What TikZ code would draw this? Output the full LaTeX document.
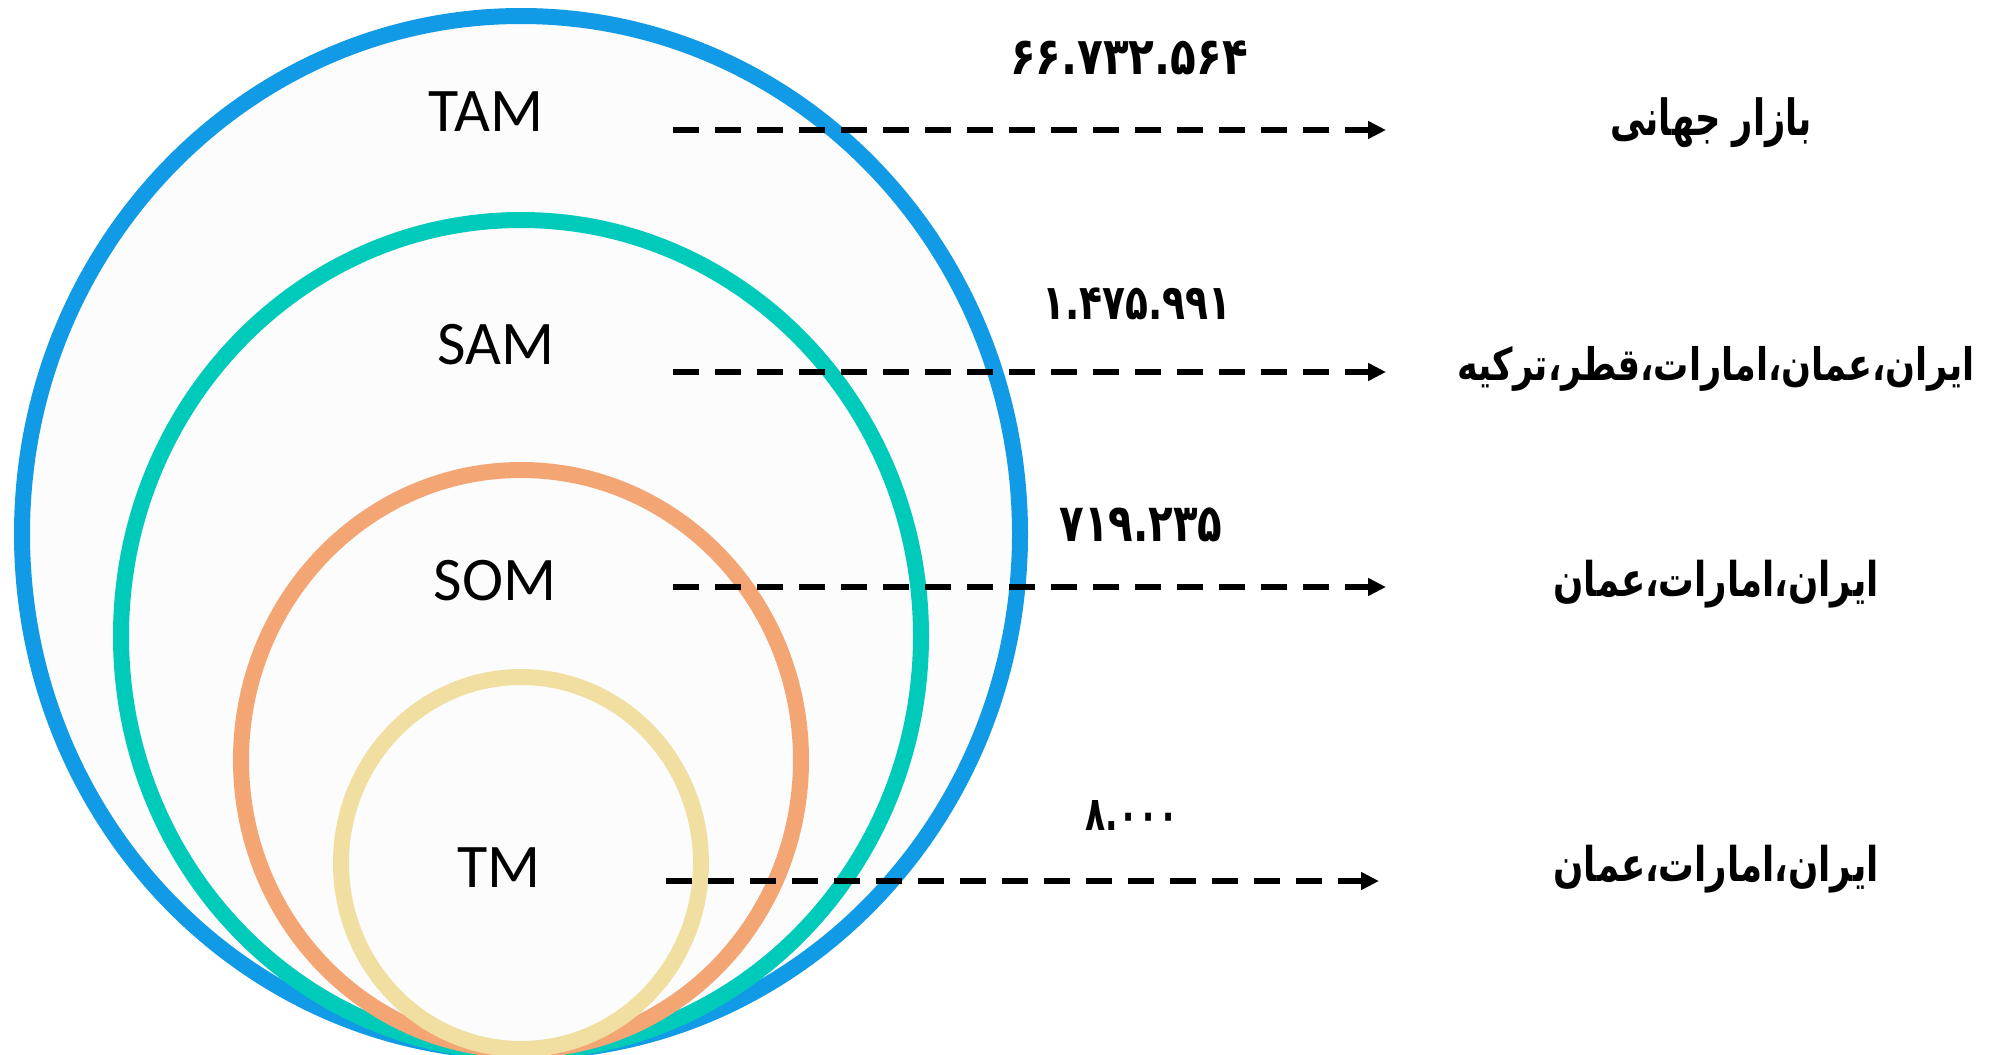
\documentclass[tikz,border=0pt]{standalone}
\usepackage{fontspec}
\usepackage{graphicx}
\setmainfont{Carlito}
\newfontfamily\fa[Script=Arabic]{DejaVu Sans}
\TeXXeTstate=1
\usetikzlibrary{arrows.meta}
\definecolor{ringblue}{HTML}{119AE6}
\definecolor{ringteal}{HTML}{00CBBA}
\definecolor{ringorange}{HTML}{F4A574}
\definecolor{ringyellow}{HTML}{F0DFA0}
\definecolor{innerfill}{HTML}{FCFCFC}
\newcommand\fitbox[3]{\resizebox*{#1pt}{#2pt}{#3}}
\tikzset{
  ring/.style={line width=16pt},
  lab/.style={font=\fontsize{62}{70}\selectfont, inner sep=0pt, anchor=center},
  fatext/.style={inner sep=0pt, anchor=center},
  darrow/.style={line width=5.5pt, dash pattern=on 26pt off 16pt, -{Triangle[length=18pt,width=17pt]}}
}
\begin{document}
\begin{tikzpicture}[x=1pt,y=-1pt]
\useasboundingbox (0,0) rectangle (1990,1055);
\fill[white] (0,0) rectangle (1990,1055);
\begin{scope}
\clip (0,0) rectangle (1990,1055);
\fill[innerfill] (521,534) ellipse [x radius=499, y radius=518];
\draw[ring, ringblue] (521,534) ellipse [x radius=499, y radius=518];
\draw[ring, ringteal] (521,636) ellipse [x radius=400, y radius=416];
\draw[ring, ringorange] (521,760) ellipse [x radius=280, y radius=290];
\draw[ring, ringyellow] (521,863) ellipse [x radius=180, y radius=186];
\end{scope}
% labels
\node[lab] (tam) at (486,112) {TAM};
\node[lab] (sam) at (496,345) {SAM};
\node[lab] (som) at (495,581) {SOM};
\node[lab] (tm) at (499,868) {TM};
% arrows
\coordinate (a1) at (673,130);
\coordinate (b1) at (1386,130);
\coordinate (a2) at (673,372);
\coordinate (b2) at (1386,372);
\coordinate (a3) at (673,587);
\coordinate (b3) at (1386,587);
\coordinate (a4) at (666,881);
\coordinate (b4) at (1379,881);
\draw[darrow] (a1) -- (b1);
\draw[darrow] (a2) -- (b2);
\draw[darrow] (a3) -- (b3);
\draw[darrow] (a4) -- (b4);
% numbers
\node[fatext] (n1) at (1129,58) {\fitbox{238}{34}{\fa\bfseries ۶۶.۷۳۲.۵۶۴}};
\node[fatext] (n2) at (1137,304) {\fitbox{189}{32}{\fa\bfseries ۱.۴۷۵.۹۹۱}};
\node[fatext] (n3) at (1141,525) {\fitbox{163}{34}{\fa\bfseries ۷۱۹.۲۳۵}};
\node[fatext] (n4) at (1132,815) {\fitbox{93}{30}{\fa\bfseries ۸.۰۰۰}};
% persian labels
\node[fatext] (p1) at (1711,123) {\fitbox{202}{50}{\fa\bfseries\beginR بازار جهانی\endR}};
\node[fatext] (p2) at (1716,369) {\fitbox{518}{45}{\fa\bfseries\beginR ایران،عمان،امارات،قطر،ترکیه\endR}};
\node[fatext] (p3) at (1716,584) {\fitbox{325}{48}{\fa\bfseries\beginR ایران،امارات،عمان\endR}};
\node[fatext] (p4) at (1716,869) {\fitbox{325}{48}{\fa\bfseries\beginR ایران،امارات،عمان\endR}};
\end{tikzpicture}
\end{document}
